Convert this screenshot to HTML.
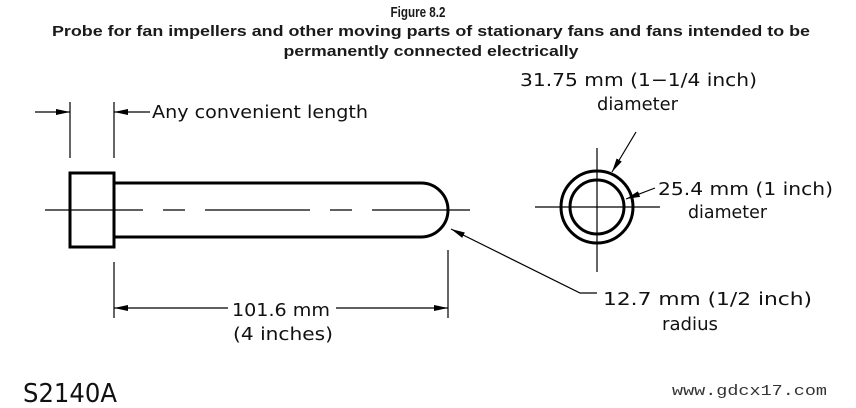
<!DOCTYPE html>
<html><head><meta charset="utf-8"><style>
html,body{margin:0;padding:0;background:#fff;width:856px;height:408px;overflow:hidden}
svg{display:block}
.t{font-family:"Liberation Sans",sans-serif;fill:#1a1a1a}
.c{font-family:"DejaVu Sans","Liberation Sans",sans-serif;font-size:18px;fill:#111}
</style></head><body>
<svg width="856" height="408" viewBox="0 0 856 408" xmlns="http://www.w3.org/2000/svg">
<defs><marker id="a" viewBox="0 0 14 6" refX="14" refY="3" markerWidth="14" markerHeight="6" markerUnits="userSpaceOnUse" orient="auto"><path d="M0,0L14,3L0,6z" fill="#000"/></marker></defs>
<g class="t" font-weight="bold" font-size="15" text-anchor="middle">
<text x="418" y="17" textLength="55" lengthAdjust="spacingAndGlyphs">Figure 8.2</text>
<text x="431" y="36" textLength="758" lengthAdjust="spacingAndGlyphs">Probe for fan impellers and other moving parts of stationary fans and fans intended to be</text>
<text x="431" y="56" textLength="295" lengthAdjust="spacingAndGlyphs">permanently connected electrically</text>
</g>
<g stroke="#000" fill="none">
<path d="M45 210H143M163 210H185M205 210H310M330 210H352M372 210H470" stroke-width="1.2"/>
<rect x="70" y="173" width="44" height="74" stroke-width="3"/>
<path d="M114 183H421A27 27 0 0 1 421 237H114" stroke-width="3"/>
<path d="M70 102V158M114 102V158" stroke-width="1.2"/>
<path d="M35 112H70" stroke-width="1.2" marker-end="url(#a)"/>
<path d="M150 112H114" stroke-width="1.2" marker-end="url(#a)"/>
<path d="M114 262V318M448 250V318" stroke-width="1.2"/>
<path d="M228 308H114" stroke-width="1.2" marker-end="url(#a)"/>
<path d="M336 308H448" stroke-width="1.2" marker-end="url(#a)"/>
<path d="M597 293H580L451 229" stroke-width="1.2" marker-end="url(#a)"/>
<circle cx="597" cy="207" r="36" stroke-width="3"/>
<circle cx="597" cy="207" r="27" stroke-width="3"/>
<path d="M597 148V272M535 207H660" stroke-width="1.2"/>
<path d="M636 132L612 172" stroke-width="1.2" marker-end="url(#a)"/>
<path d="M655 188L626 199" stroke-width="1.2" marker-end="url(#a)"/>
</g>
<g class="c" lengthAdjust="spacingAndGlyphs">
<text x="152" y="118" textLength="216" lengthAdjust="spacingAndGlyphs">Any convenient length</text>
<text x="232" y="316" textLength="98" lengthAdjust="spacingAndGlyphs">101.6 mm</text>
<text x="233" y="340" textLength="100" lengthAdjust="spacingAndGlyphs">(4 inches)</text>
<text x="520" y="86" textLength="237" lengthAdjust="spacingAndGlyphs">31.75 mm (1−1/4 inch)</text>
<text x="597" y="110" textLength="81" lengthAdjust="spacingAndGlyphs">diameter</text>
<text x="658" y="195" textLength="175" lengthAdjust="spacingAndGlyphs">25.4 mm (1 inch)</text>
<text x="688" y="218" textLength="79" lengthAdjust="spacingAndGlyphs">diameter</text>
<text x="603" y="305" textLength="209" lengthAdjust="spacingAndGlyphs">12.7 mm (1/2 inch)</text>
<text x="662" y="330" textLength="56" lengthAdjust="spacingAndGlyphs">radius</text>
</g>
<text x="23" y="402" font-family="DejaVu Sans,Liberation Sans,sans-serif" font-size="26" fill="#111" textLength="94" lengthAdjust="spacingAndGlyphs">S2140A</text>
<text x="672" y="395" font-family="Liberation Mono,monospace" font-size="15" fill="#333" textLength="155" lengthAdjust="spacingAndGlyphs">www.gdcx17.com</text>
</svg>
</body></html>
